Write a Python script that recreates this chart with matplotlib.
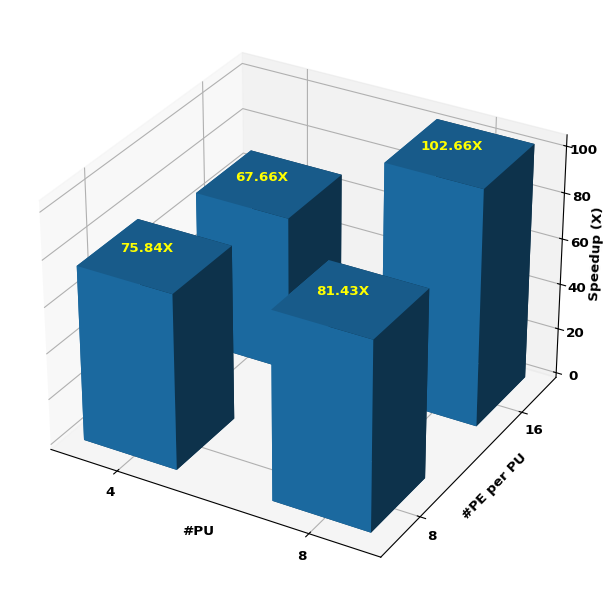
import matplotlib
matplotlib.use("Agg")
import matplotlib.pyplot as plt
import numpy as np

pu_labels = ['4', '8']
pe_labels = ['8', '16']
pu_idx = [0, 1, 0, 1]
pe_idx = [0, 0, 1, 1]
speedup = [75.84, 81.43, 67.66, 102.66]
labels = ['75.84X', '81.43X', '67.66X', '102.66X']

plt.rcParams['font.weight'] = 'bold'
plt.rcParams['font.size'] = 9.7

fig = plt.figure(figsize=(6.12, 6.01), dpi=100)
ax = fig.add_axes([0.002, 0.0113, 0.977, 0.977], projection='3d')

w = 0.5
ax.bar3d(np.array(pu_idx) - w/2, np.array(pe_idx) - w/2, np.zeros(4), w, w, speedup,
         color='tab:blue', shade=True)

# labels sit a bit up and left of the bar top centre
for x, y, z, t in zip(pu_idx, pe_idx, speedup, labels):
    ax.text(x - 0.04, y, z + 2, t, color='yellow', ha='center', va='center',
            fontweight='bold', zorder=10)

ax.set_xticks([0, 1])
ax.set_xticklabels(pu_labels)
ax.set_yticks([0, 1])
ax.set_yticklabels(pe_labels)
ax.set_zticks([0, 20, 40, 60, 80, 100])
ax.tick_params(axis='x', pad=0)
ax.tick_params(axis='y', pad=0)
ax.tick_params(axis='z', pad=-0.5)
ax.set_xlabel('#PU', fontweight='bold', labelpad=-6)
ax.set_ylabel('#PE per PU', fontweight='bold', labelpad=-6)
ax.set_zlabel('Speedup (X)', fontweight='bold', labelpad=-5.5)

fig.savefig('out.png', dpi=100)
